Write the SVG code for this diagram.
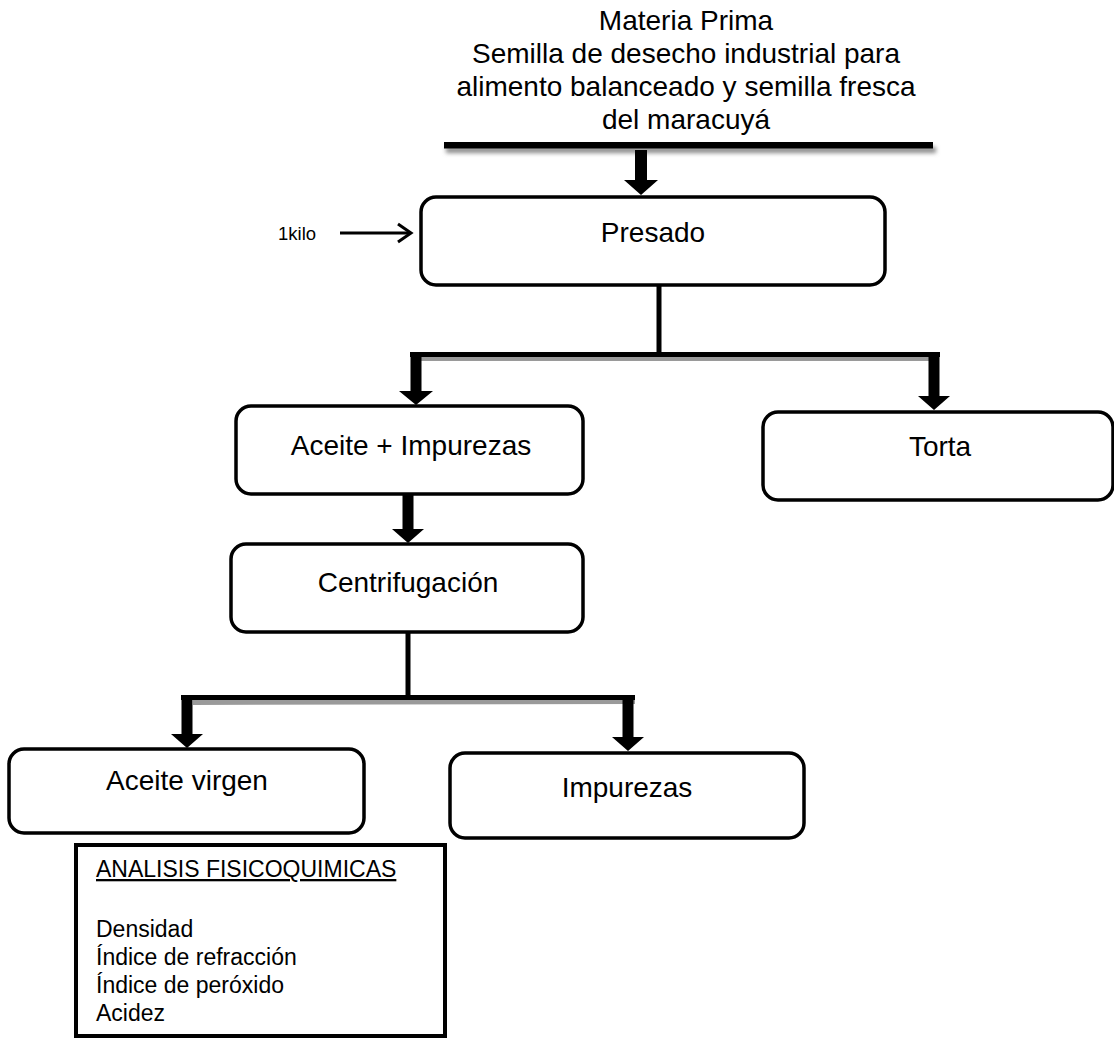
<svg xmlns="http://www.w3.org/2000/svg" width="1114" height="1038" viewBox="0 0 1114 1038">
  <defs>
    <style>
      .t{font-family:"Liberation Sans",Arial,Helvetica,sans-serif;fill:#000}
      .lbl{font-size:28px;text-anchor:middle}
      .box{fill:#fff;stroke:#000;stroke-width:3.5}
      .arr{fill:#000}
      .stem{stroke:#000;stroke-width:5;fill:none}
      .shade{fill:#9a9a9a}
      .list{font-size:23px}
    </style>
    <filter id="soft" x="-5%" y="-100%" width="110%" height="300%">
      <feGaussianBlur stdDeviation="2"/>
    </filter>
  </defs>

  <rect width="1114" height="1038" fill="#fff"/>

  <!-- Raw material heading with its underline bar -->
  <g id="materia-prima">
    <text class="t lbl" x="686" y="30" font-size="28.5">Materia Prima</text>
    <text class="t lbl" x="686" y="63" font-size="28.5">Semilla de desecho industrial para</text>
    <text class="t lbl" x="686" y="96" font-size="28.5">alimento balanceado y semilla fresca</text>
    <text class="t lbl" x="686" y="129" font-size="28.5">del maracuyá</text>
    <rect x="446" y="147" width="490" height="6" fill="#8a8a8a" filter="url(#soft)"/>
    <rect x="444" y="142" width="489" height="6.5" fill="#000"/>
  </g>

  <!-- Input quantity -->
  <g id="entrada">
    <text class="t" x="278" y="240" font-size="18.5">1kilo</text>
  </g>

  <!-- Process steps -->
  <g id="presado">
    <rect class="box" x="421" y="197" width="464" height="88" rx="15"/>
    <text class="t lbl" x="653" y="242" font-size="27.5">Presado</text>
  </g>

  <g id="aceite-impurezas">
    <rect class="box" x="236" y="406" width="347" height="88" rx="15"/>
    <text class="t lbl" x="411" y="455" font-size="28.5">Aceite + Impurezas</text>
  </g>

  <g id="torta">
    <rect class="box" x="763" y="412" width="350" height="88" rx="15"/>
    <text class="t lbl" x="940" y="456">Torta</text>
  </g>

  <g id="centrifugacion">
    <rect class="box" x="231" y="544" width="352" height="88" rx="15"/>
    <text class="t lbl" x="408" y="592" font-size="28.5">Centrifugación</text>
  </g>

  <g id="aceite-virgen">
    <rect class="box" x="9" y="749" width="355" height="84" rx="15"/>
    <text class="t lbl" x="187" y="790">Aceite virgen</text>
  </g>

  <g id="impurezas">
    <rect class="box" x="450" y="753" width="354" height="85" rx="15"/>
    <text class="t lbl" x="627" y="797">Impurezas</text>
  </g>

  <!-- Physicochemical analyses list -->
  <g id="analisis">
    <rect x="76" y="845" width="369" height="191" fill="#fff" stroke="#000" stroke-width="4"/>
    <text class="t list" x="96" y="877" text-decoration="underline">ANALISIS FISICOQUIMICAS</text>
    <text class="t list" x="96" y="937">Densidad</text>
    <text class="t list" x="96" y="965">Índice de refracción</text>
    <text class="t list" x="96" y="993">Índice de peróxido</text>
    <text class="t list" x="96" y="1021">Acidez</text>
  </g>

  <!-- Connectors -->
  <g id="connectors">
    <!-- 1kilo input arrow -->
    <line x1="340" y1="233" x2="410" y2="233" stroke="#000" stroke-width="3"/>
    <polyline points="398,224 411,233 398,242" fill="none" stroke="#000" stroke-width="3"/>

    <!-- heading bar to Presado -->
    <polygon class="arr" points="635,150 647,150 647,180 658,180 641,195 624,180 635,180"/>

    <!-- Presado split -->
    <line class="stem" x1="659" y1="285" x2="659" y2="354"/>
    <rect class="shade" x="421" y="357" width="516" height="4"/>
    <rect x="410" y="352" width="530" height="5" fill="#000"/>
    <polygon class="arr" points="410.5,352 421.5,352 421.5,391 433,391 416,405 399,391 410.5,391"/>
    <polygon class="arr" points="928.5,352 939.5,352 939.5,396 950,396 934,410 918,396 928.5,396"/>

    <!-- Aceite + Impurezas to Centrifugación -->
    <polygon class="arr" points="402.5,494 413.5,494 413.5,529 424,529 408,543 392,529 402.5,529"/>

    <!-- Centrifugación split -->
    <line class="stem" x1="408" y1="632" x2="408" y2="698" stroke-width="4"/>
    <polygon class="shade" points="193,700 635,700 635,704 193,705"/>
    <rect x="181" y="695" width="454" height="5" fill="#000"/>
    <polygon class="arr" points="181.5,695 192.5,695 192.5,734 203,734 187,748 171,734 181.5,734"/>
    <polygon class="arr" points="622.5,695 633.5,695 633.5,737 644,737 628,751 612,737 622.5,737"/>
  </g>
</svg>
